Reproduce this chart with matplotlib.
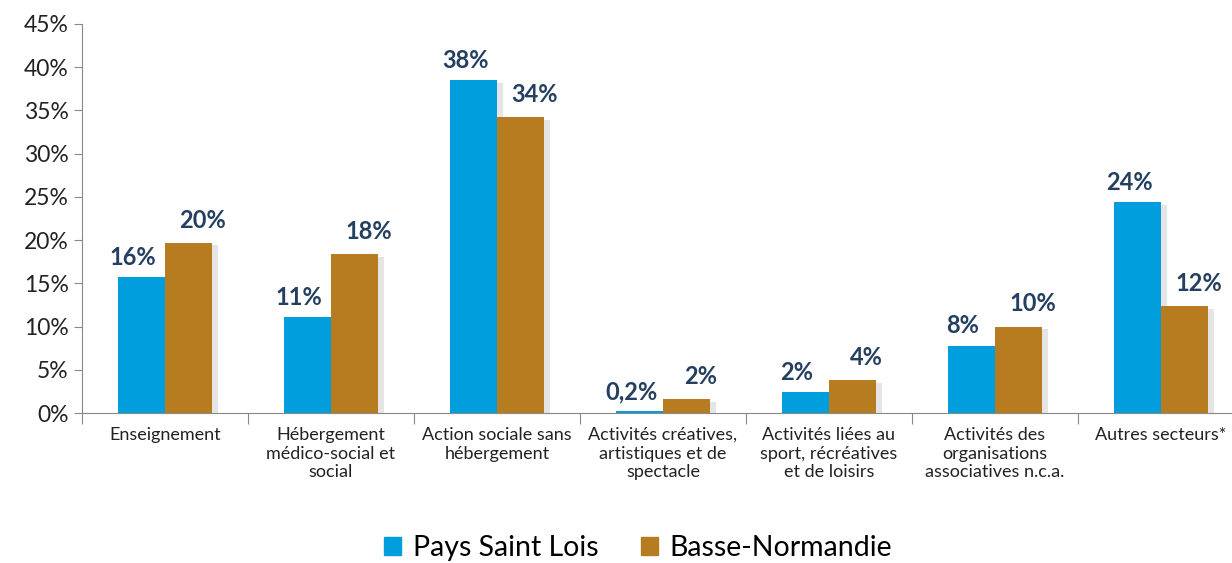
import numpy as np
import matplotlib.pyplot as plt
import matplotlib.patheffects as pe
from matplotlib.patches import Patch
from matplotlib.ticker import FuncFormatter

# ========= DATA =========
categories = [
    "Enseignement",
    "Hébergement\nmédico-social et\nsocial",
    "Action sociale sans\nhébergement",
    "Activités créatives,\nartistiques et de\nspectacle",
    "Activités liées au\nsport, récréatives\net de loisirs",
    "Activités des\norganisations\nassociatives n.c.a.",
    "Autres secteurs*",
]
pays_saint_lois = [15.7, 11.1, 38.5, 0.2, 2.4, 7.8, 24.4]
basse_normandie = [19.7, 18.4, 34.2, 1.6, 3.8, 10.0, 12.4]
labels_psl = ["16%", "11%", "38%", "0,2%", "2%", "8%", "24%"]
labels_bn = ["20%", "18%", "34%", "2%", "4%", "10%", "12%"]

BLUE = "#009EDD"
BROWN = "#B87C20"
LABEL = "#243F60"

plt.rcParams["font.family"] = ["Lato", "DejaVu Sans"]

fig = plt.figure(figsize=(12.32, 5.63), dpi=100)
ax = fig.add_axes([0.0666, 0.2664, 0.9431, 0.691])

x = np.arange(len(categories))
w = 0.285
shadow = [pe.SimplePatchShadow(offset=(4, -2), shadow_rgbFace="#999999", alpha=0.25), pe.Normal()]

b1 = ax.bar(x - w / 2, pays_saint_lois, w, color=BLUE, zorder=3)
b2 = ax.bar(x + w / 2, basse_normandie, w, color=BROWN, zorder=3)
for bar in list(b1) + list(b2):
    bar.set_path_effects(shadow)

# value labels
for i in range(len(categories)):
    ax.annotate(labels_psl[i], (x[i] - w / 2, pays_saint_lois[i]), xytext=(-6, 6),
                textcoords="offset points", ha="center", va="bottom",
                fontsize=17, fontweight="bold", color=LABEL)
    ax.annotate(labels_bn[i], (x[i] + w / 2, basse_normandie[i]), xytext=(10, 8),
                textcoords="offset points", ha="center", va="bottom",
                fontsize=17, fontweight="bold", color=LABEL)

ax.set_xlim(-0.5, len(categories) - 0.5)
ax.set_ylim(0, 45)
ax.set_yticks(np.arange(0, 46, 5))
ax.yaxis.set_major_formatter(FuncFormatter(lambda v, p: f"{int(v)}%"))
ax.tick_params(axis="y", labelsize=16.5, length=6, color="#888888", labelcolor="#222222")

# separators between groups as x ticks, labels in the middle
ax.set_xticks(np.arange(-0.5, len(categories), 1.0))
ax.set_xticklabels([])
ax.set_xticks(x, minor=True)
ax.set_xticklabels(categories, minor=True, fontsize=13, color="#222222")
ax.tick_params(axis="x", which="major", length=8, color="#888888")
ax.tick_params(axis="x", which="minor", length=0, pad=10)

for s in ["top", "right"]:
    ax.spines[s].set_visible(False)
for s in ["left", "bottom"]:
    ax.spines[s].set_color("#888888")

handles = [Patch(color=BLUE, label="Pays Saint Lois"),
           Patch(color=BROWN, label="Basse-Normandie")]
fig.legend(handles=handles, loc="center", bbox_to_anchor=(0.518, 0.027), ncol=2,
           frameon=False, fontsize=20.5, handlelength=0.6, handleheight=0.6,
           columnspacing=1.5, handletextpad=0.4)

fig.savefig("out.png", dpi=100)
